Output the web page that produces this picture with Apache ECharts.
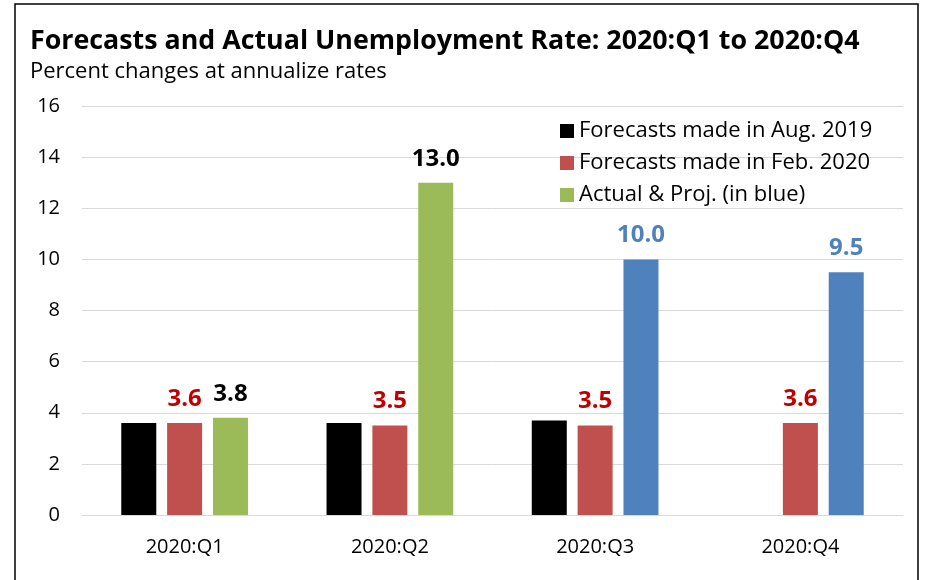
<!DOCTYPE html>
<html>
<head>
<meta charset="utf-8">
<script src="https://cdn.jsdelivr.net/npm/echarts@6/dist/echarts.min.js"></script>
<style>
  html, body { margin: 0; padding: 0; background: #fff; }
  #chart { width: 928px; height: 580px; }
</style>
</head>
<body>
<div id="chart"></div>
<script>
// 数据
const categories = ["2020:Q1", "2020:Q2", "2020:Q3", "2020:Q4"];
const aug2019 = [3.6, 3.6, 3.7, null];
const feb2020 = [3.6, 3.5, 3.5, 3.6];
const actual = [3.8, 13.0, 10.0, 9.5];
// 前两个是实际值(绿色)，后两个是预测值(蓝色)
const isProjection = [false, false, true, true];

const font = "Open Sans";
let myChart = echarts.init(document.getElementById("chart"));

let option = {
    animation: false,
    textStyle: { fontFamily: font },
    title: {
        text: "Forecasts and Actual Unemployment Rate: 2020:Q1 to 2020:Q4",
        subtext: "Percent changes at annualize rates",
        left: 25,
        top: 23,
        itemGap: 6,
        textStyle: { fontFamily: font, fontSize: 26.8, fontWeight: "bold", color: "#000" },
        subtextStyle: { fontFamily: font, fontSize: 22, color: "#000" }
    },
    legend: {
        orient: "vertical",
        left: 555,
        top: 115,
        itemWidth: 14,
        itemHeight: 14,
        itemGap: 10,
        icon: "rect",
        textStyle: { fontFamily: font, fontSize: 22, color: "#000" },
        data: [
            { name: "Forecasts made in Aug. 2019", itemStyle: { color: "#000000" } },
            { name: "Forecasts made in Feb. 2020", itemStyle: { color: "#c0504d" } },
            { name: "Actual & Proj. (in blue)", itemStyle: { color: "#9bbb59" } }
        ]
    },
    grid: { left: 82, right: 25, top: 106, bottom: 65 },
    xAxis: {
        type: "category",
        data: categories,
        axisLine: { lineStyle: { color: "#d9d9d9" } },
        axisTick: { show: false },
        axisLabel: { fontFamily: font, fontSize: 20, color: "#000", margin: 22 }
    },
    yAxis: {
        type: "value",
        min: 0,
        max: 16,
        interval: 2,
        axisLine: { show: false },
        axisTick: { show: false },
        splitLine: { lineStyle: { color: "#d9d9d9" } },
        axisLabel: { fontFamily: font, fontSize: 20, color: "#000", margin: 22 }
    },
    graphic: [{
        type: "rect",
        shape: { x: 15, y: 4, width: 903, height: 600 },
        style: { fill: null, stroke: "#000", lineWidth: 1.5 },
        silent: true
    }],
    series: [
        {
            name: "Forecasts made in Aug. 2019",
            type: "bar",
            barWidth: 35,
            barGap: "31%",
            itemStyle: { color: "#000000" },
            data: aug2019
        },
        {
            name: "Forecasts made in Feb. 2020",
            type: "bar",
            barWidth: 35,
            itemStyle: { color: "#c0504d" },
            label: {
                show: true,
                position: "top",
                distance: 12,
                fontFamily: font,
                fontSize: 24,
                fontWeight: "bold",
                color: "#c00000",
                formatter: p => p.value.toFixed(1)
            },
            data: feb2020
        },
        {
            name: "Actual & Proj. (in blue)",
            type: "bar",
            barWidth: 35,
            itemStyle: { color: "#9bbb59" },
            data: actual.map((v, i) => ({
                value: v,
                itemStyle: { color: isProjection[i] ? "#4f81bd" : "#9bbb59" },
                label: {
                    show: true,
                    position: "top",
                    distance: 12,
                    fontFamily: font,
                    fontSize: 24,
                    fontWeight: "bold",
                    color: isProjection[i] ? "#4f81bd" : "#000",
                    formatter: p => p.value.toFixed(1)
                }
            }))
        }
    ]
};
myChart.setOption(option);
</script>
</body>
</html>
